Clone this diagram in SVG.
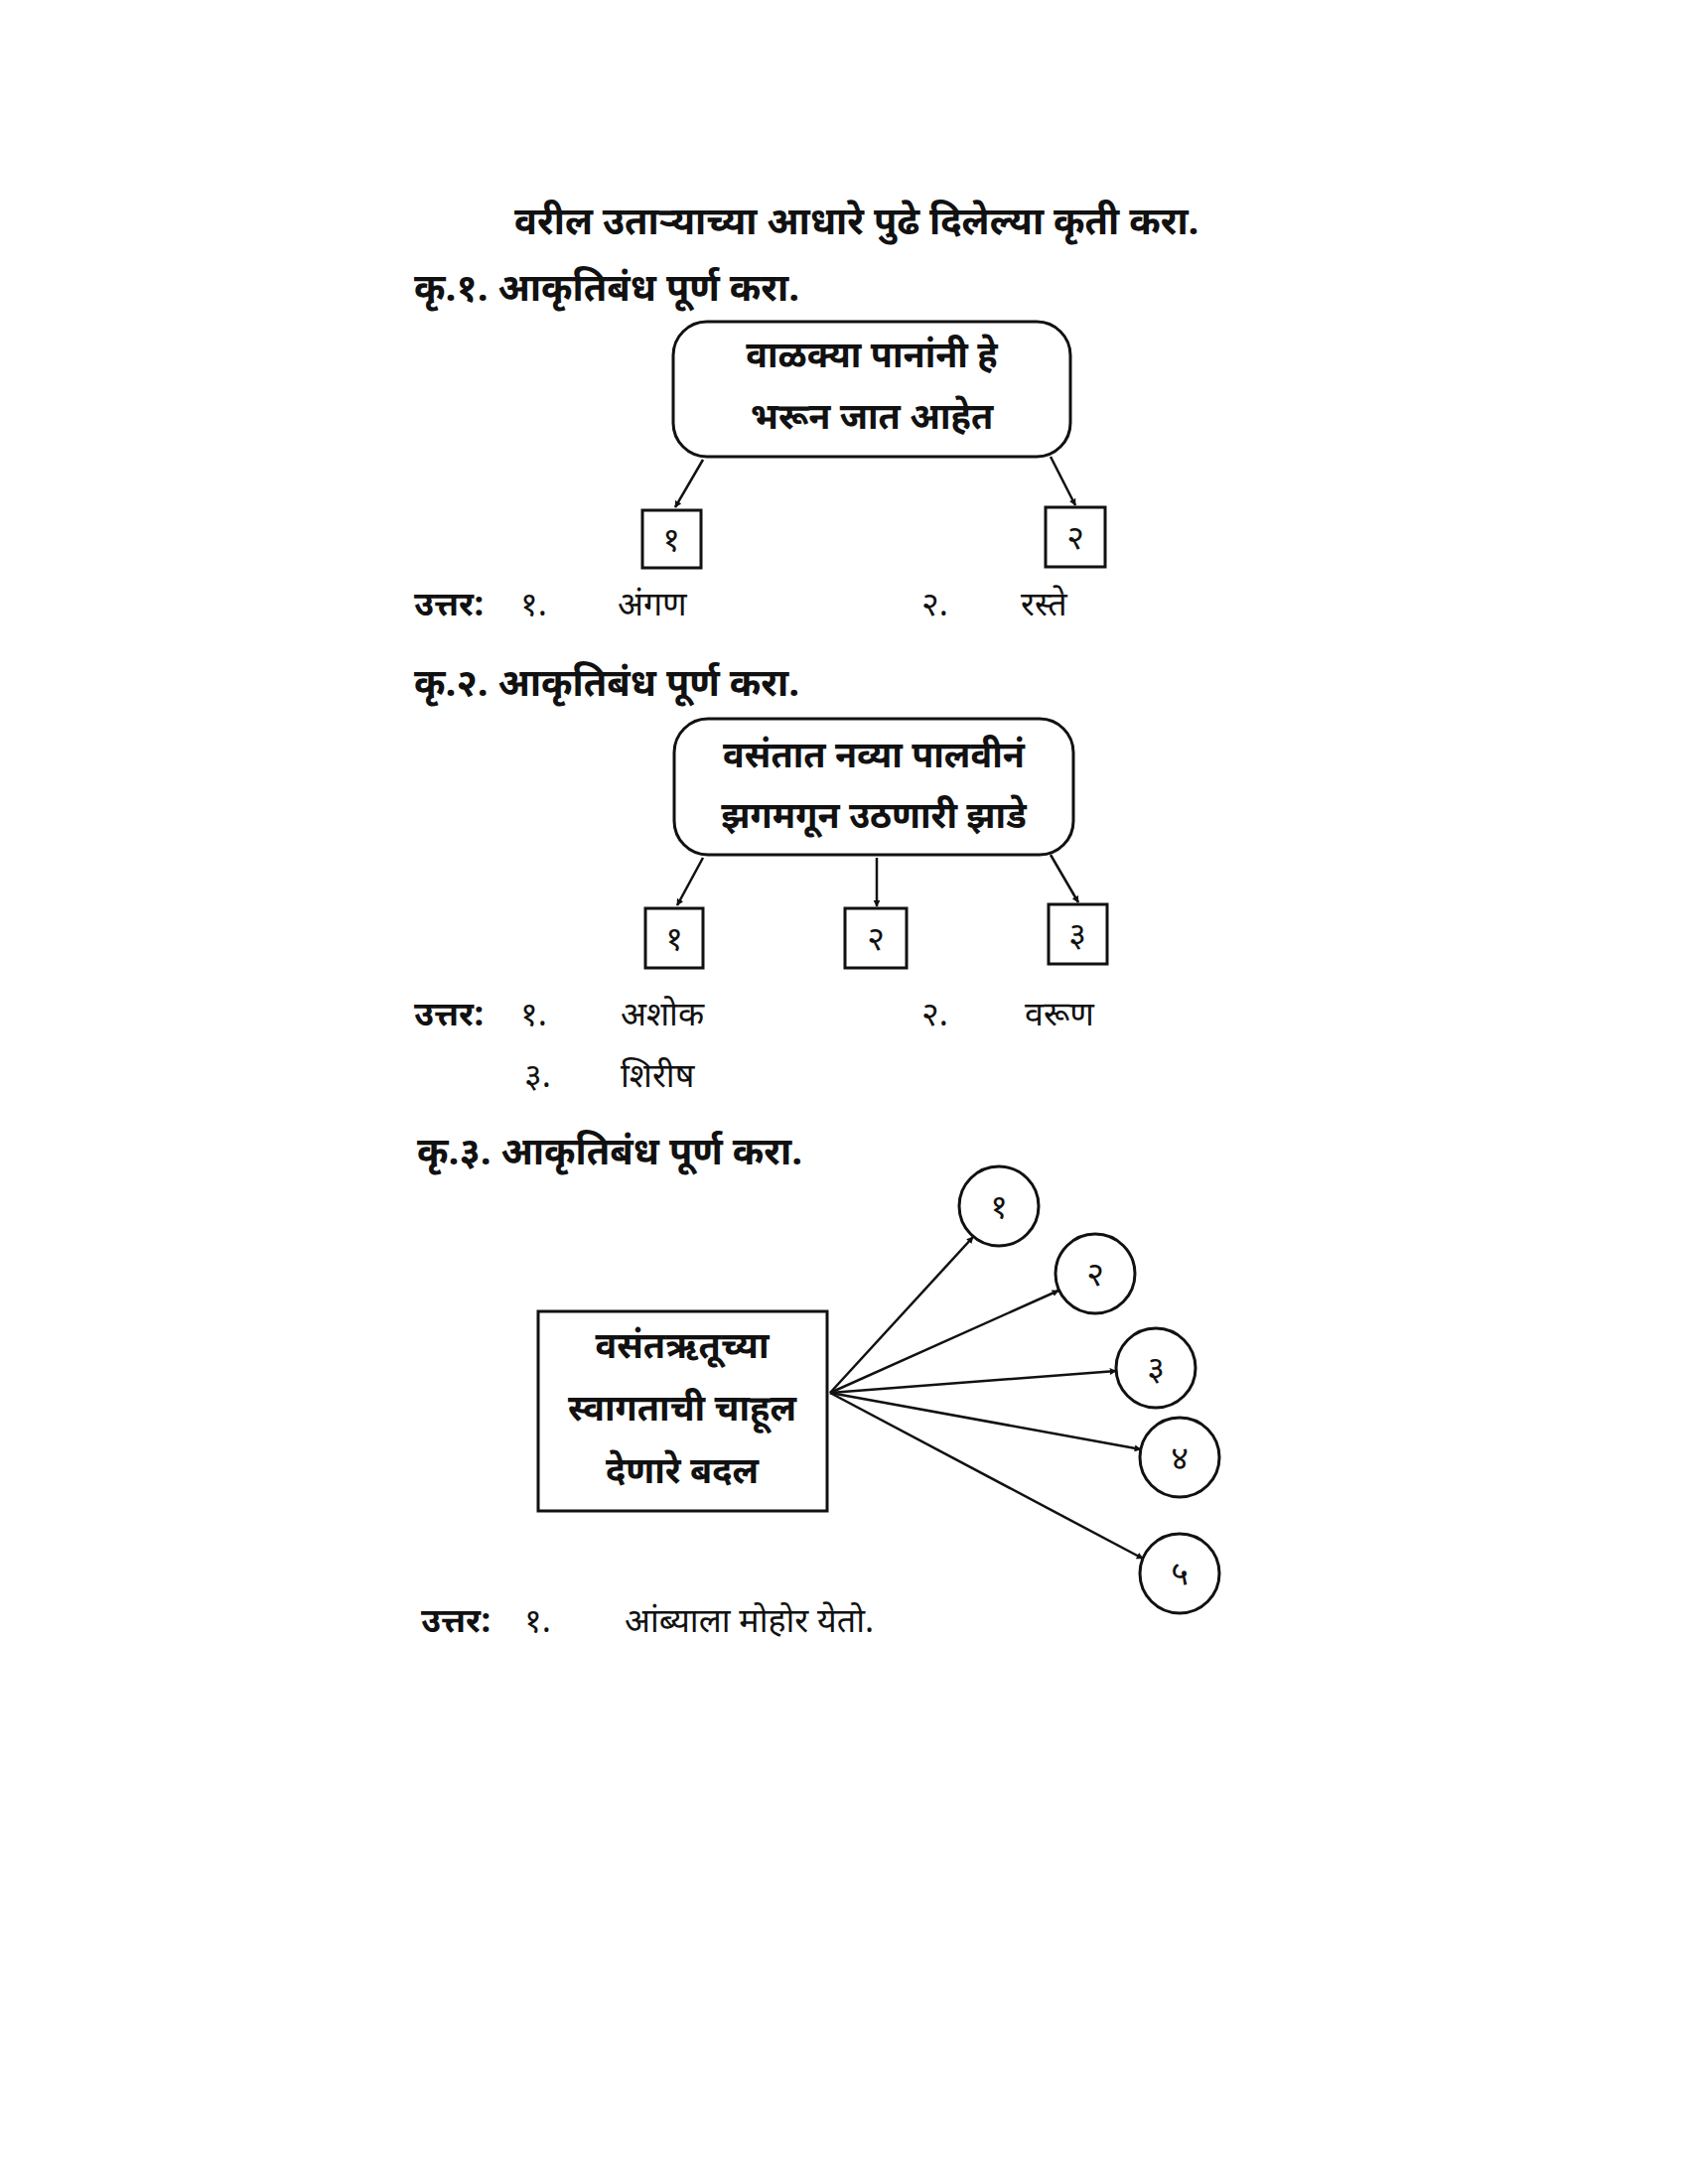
<svg xmlns="http://www.w3.org/2000/svg" width="1700" height="2200" viewBox="0 0 1700 2200">
<style>
text{font-family:"Noto Sans Devanagari","Noto Sans","Lohit Devanagari",sans-serif;fill:#111}
.h{font-size:38px;font-weight:bold}
.b{font-size:36px;font-weight:bold;text-anchor:middle}
.n{font-size:34px;text-anchor:middle}
.a{font-size:34px}
.s{fill:#fff;stroke:#111;stroke-width:3}
.c line{stroke:#111;stroke-width:2.5;marker-end:url(#ar)}
</style>
<defs><marker id="ar" viewBox="0 0 10 10" refX="9" refY="5" markerWidth="7" markerHeight="7" orient="auto" markerUnits="userSpaceOnUse"><path d="M0,0L10,5L0,10z" fill="#111"/></marker></defs>
<rect width="1700" height="2200" fill="#fff"/>
<text class="h" x="518" y="236">वरील उताऱ्याच्या आधारे पुढे दिलेल्या कृती करा.</text>
<text class="h" x="417" y="303">कृ.१. आकृतिबंध पूर्ण करा.</text>
<g id="box1"><rect class="s" x="678" y="324" width="400" height="136" rx="34"/><text class="b" x="878" y="370">वाळक्या पानांनी हे</text><text class="b" x="878" y="432">भरून जात आहेत</text></g>
<g id="b1n1"><rect class="s" x="647" y="514" width="59" height="58"/><text class="n" x="676" y="555">१</text></g>
<g id="b1n2"><rect class="s" x="1053" y="511" width="60" height="60"/><text class="n" x="1083" y="553">२</text></g>
<text class="a" x="417" y="620" font-weight="bold">उत्तर:</text><text class="a" x="524" y="620">१.</text><text class="a" x="622" y="620">अंगण</text><text class="a" x="928" y="620">२.</text><text class="a" x="1028" y="620">रस्ते</text>
<text class="h" x="417" y="701">कृ.२. आकृतिबंध पूर्ण करा.</text>
<g id="box2"><rect class="s" x="679" y="724" width="402" height="137" rx="34"/><text class="b" x="880" y="773">वसंतात नव्या पालवीनं</text><text class="b" x="880" y="834">झगमगून उठणारी झाडे</text></g>
<g id="b2n1"><rect class="s" x="650" y="915" width="58" height="60"/><text class="n" x="679" y="957">१</text></g>
<g id="b2n2"><rect class="s" x="851" y="915" width="62" height="60"/><text class="n" x="882" y="957">२</text></g>
<g id="b2n3"><rect class="s" x="1056" y="911" width="59" height="60"/><text class="n" x="1085" y="953">३</text></g>
<text class="a" x="417" y="1033" font-weight="bold">उत्तर:</text><text class="a" x="524" y="1033">१.</text><text class="a" x="625" y="1033">अशोक</text><text class="a" x="928" y="1033">२.</text><text class="a" x="1032" y="1033">वरूण</text>
<text class="a" x="528" y="1095">३.</text><text class="a" x="625" y="1095">शिरीष</text>
<text class="h" x="420" y="1173">कृ.३. आकृतिबंध पूर्ण करा.</text>
<g id="box3"><rect class="s" x="542" y="1321" width="291" height="201"/><text class="b" x="687" y="1368">वसंतऋतूच्या</text><text class="b" x="687" y="1431">स्वागताची चाहूल</text><text class="b" x="687" y="1494">देणारे बदल</text></g>
<g id="c1"><circle class="s" cx="1006" cy="1215" r="40"/><text class="n" x="1006" y="1227">१</text></g>
<g id="c2"><circle class="s" cx="1103" cy="1283" r="40"/><text class="n" x="1103" y="1295">२</text></g>
<g id="c3"><circle class="s" cx="1164" cy="1378" r="40"/><text class="n" x="1164" y="1390">३</text></g>
<g id="c4"><circle class="s" cx="1188" cy="1468" r="40"/><text class="n" x="1188" y="1480">४</text></g>
<g id="c5"><circle class="s" cx="1188" cy="1585" r="40"/><text class="n" x="1188" y="1597">५</text></g>
<text class="a" x="424" y="1644" font-weight="bold">उत्तर:</text><text class="a" x="528" y="1644">१.</text><text class="a" x="629" y="1644">आंब्याला मोहोर येतो.</text>
<g id="connectors" class="c">
<line x1="708" y1="463" x2="680" y2="511"/>
<line x1="1058" y1="460" x2="1083" y2="509"/>
<line x1="708" y1="864" x2="682" y2="912"/>
<line x1="883" y1="864" x2="883" y2="913"/>
<line x1="1058" y1="861" x2="1086" y2="909"/>
<line x1="836" y1="1403" x2="980" y2="1246"/>
<line x1="836" y1="1403" x2="1066" y2="1300"/>
<line x1="836" y1="1403" x2="1124" y2="1381"/>
<line x1="836" y1="1403" x2="1149" y2="1460"/>
<line x1="836" y1="1403" x2="1151" y2="1570"/>
</g>
</svg>
